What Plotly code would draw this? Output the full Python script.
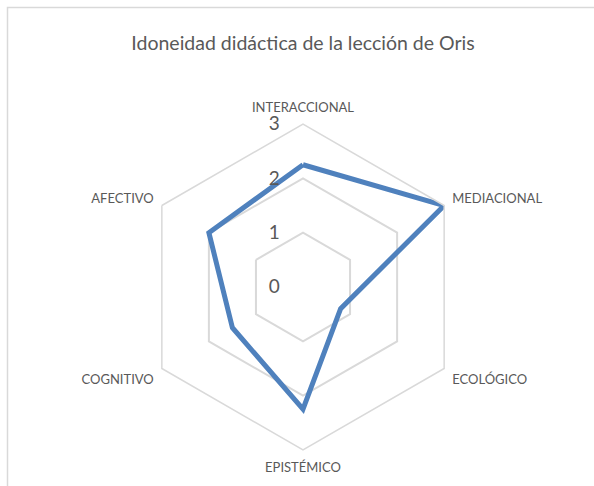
import plotly.graph_objects as go

categories = ["INTERACCIONAL", "MEDIACIONAL", "ECOLÓGICO", "EPISTÉMICO", "COGNITIVO", "AFECTIVO"]
values = [2.25, 3.0, 0.8, 2.25, 1.5, 2.0]
radial_ticks = [0, 1, 2, 3]
title_text = "Idoneidad didáctica de la lección de Oris"

W, H = 594, 486
cx, cy, R = 303, 287, 163

fig = go.Figure()
fig.add_trace(go.Scatterpolar(
    r=values + values[:1],
    theta=categories + categories[:1],
    mode="lines",
    line=dict(color="#4F81BD", width=5, shape="linear"),
    showlegend=False,
    hoverinfo="skip",
))

fig.update_layout(
    width=W, height=H,
    margin=dict(l=0, r=0, t=0, b=0),
    paper_bgcolor="white",
    plot_bgcolor="white",
    font=dict(family="Lato, Open Sans, sans-serif", color="#595959"),
    title=dict(text=title_text, x=303 / W, xanchor="center", y=1 - 43 / H, yanchor="middle",
               font=dict(size=19.5, color="#595959", family="Lato, Open Sans, sans-serif")),
    polar=dict(
        domain=dict(x=[(cx - R) / W, (cx + R) / W], y=[(H - cy - R) / H, (H - cy + R) / H]),
        gridshape="linear",
        bgcolor="white",
        radialaxis=dict(
            range=[0, 3], tickvals=radial_ticks, ticktext=[str(t) for t in radial_ticks],
            angle=90, tickangle=90, showline=False, showgrid=True, gridcolor="#d9d9d9", gridwidth=1.5,
            ticks="outside", ticklen=16, tickcolor="rgba(0,0,0,0)",
            tickfont=dict(size=19, color="#595959"), side="counterclockwise",
        ),
        angularaxis=dict(
            rotation=90, direction="clockwise", showgrid=False, showline=True,
            linecolor="#d9d9d9", linewidth=1.5, ticks="outside", ticklen=6, tickcolor="rgba(0,0,0,0)",
            tickfont=dict(size=13, color="#595959"),
        ),
    ),
    shapes=[dict(type="rect", xref="paper", yref="paper", x0=7.5 / W, x1=1.2, y0=-0.2, y1=1 - 7.5 / H,
                 line=dict(color="#d9d9d9", width=1.5), fillcolor="rgba(0,0,0,0)", layer="below")],
)

fig.write_html("out.html", config={"displayModeBar": False},
               post_script="document.body.style.margin='0';document.body.style.overflow='hidden';")
